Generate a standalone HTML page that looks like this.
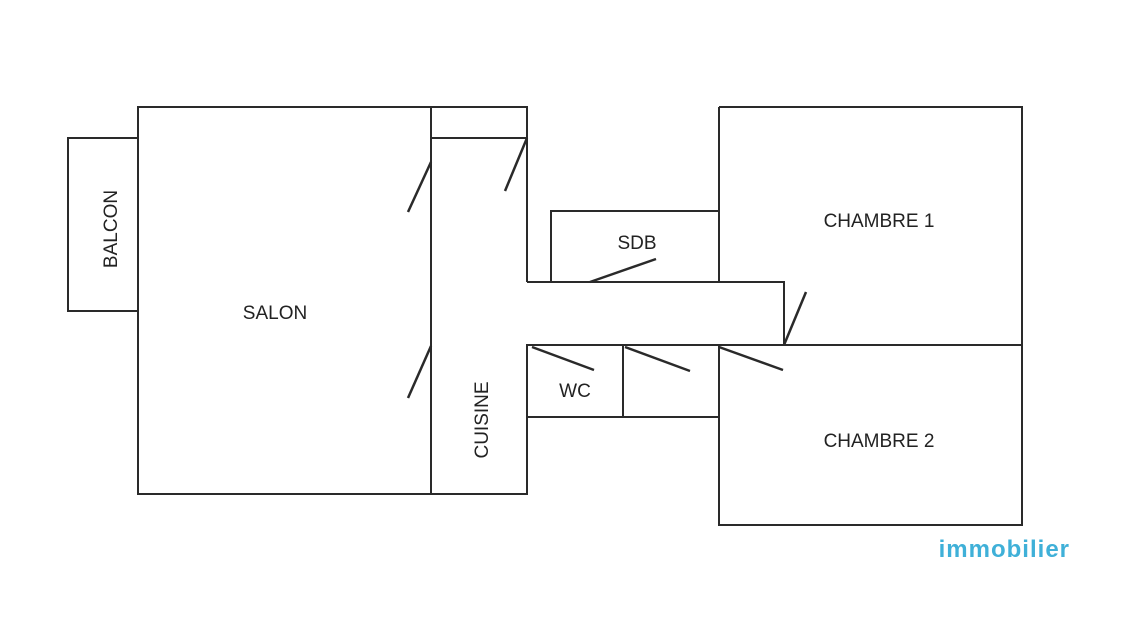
<!DOCTYPE html>
<html><head><style>body{margin:0;background:#fff}svg{display:block}</style></head><body>
<svg width="1125" height="617" viewBox="0 0 1125 617" xmlns="http://www.w3.org/2000/svg" font-family="Liberation Sans, sans-serif">
<g stroke="#2a2a2a" stroke-width="2" fill="none">
<rect x="68" y="138" width="70" height="173"/>
<rect x="138" y="107" width="293" height="387"/>
<rect x="431" y="107" width="96" height="31"/>
<polyline points="431,138 431,494 527,494 527,417"/>
<line x1="527" y1="138" x2="527" y2="282"/>
<rect x="551" y="211" width="168" height="71"/>
<polyline points="527,282 784,282 784,345"/>
<polyline points="719,107 1022,107 1022,525 719,525 719,345"/>
<line x1="719" y1="107" x2="719" y2="282"/>
<line x1="527" y1="345" x2="1022" y2="345"/>
<rect x="527" y="345" width="96" height="72"/>
<rect x="623" y="345" width="96" height="72"/>
<g stroke-width="2.5">
<line x1="431" y1="162" x2="408" y2="212"/>
<line x1="431" y1="346" x2="408" y2="398"/>
<line x1="527" y1="138" x2="505" y2="191"/>
<line x1="590" y1="282" x2="656" y2="259"/>
<line x1="784" y1="345" x2="806" y2="292"/>
<line x1="532" y1="347" x2="594" y2="370"/>
<line x1="625" y1="347" x2="690" y2="371"/>
<line x1="719" y1="347" x2="783" y2="370"/>
</g>
</g>
<g fill="#222" font-size="19">
<text x="275" y="319" text-anchor="middle">SALON</text>
<text x="879" y="227" text-anchor="middle">CHAMBRE 1</text>
<text x="879" y="447" text-anchor="middle">CHAMBRE 2</text>
<text x="637" y="249" text-anchor="middle">SDB</text>
<text x="575" y="397" text-anchor="middle">WC</text>
<text transform="translate(117,229) rotate(-90)" text-anchor="middle">BALCON</text>
<text transform="translate(488,420) rotate(-90)" text-anchor="middle">CUISINE</text>
</g>
<text x="1070" y="557" text-anchor="end" fill="#3fb0d8" font-size="24" font-weight="bold" letter-spacing="1">immobilier</text>
</svg>
</body></html>
